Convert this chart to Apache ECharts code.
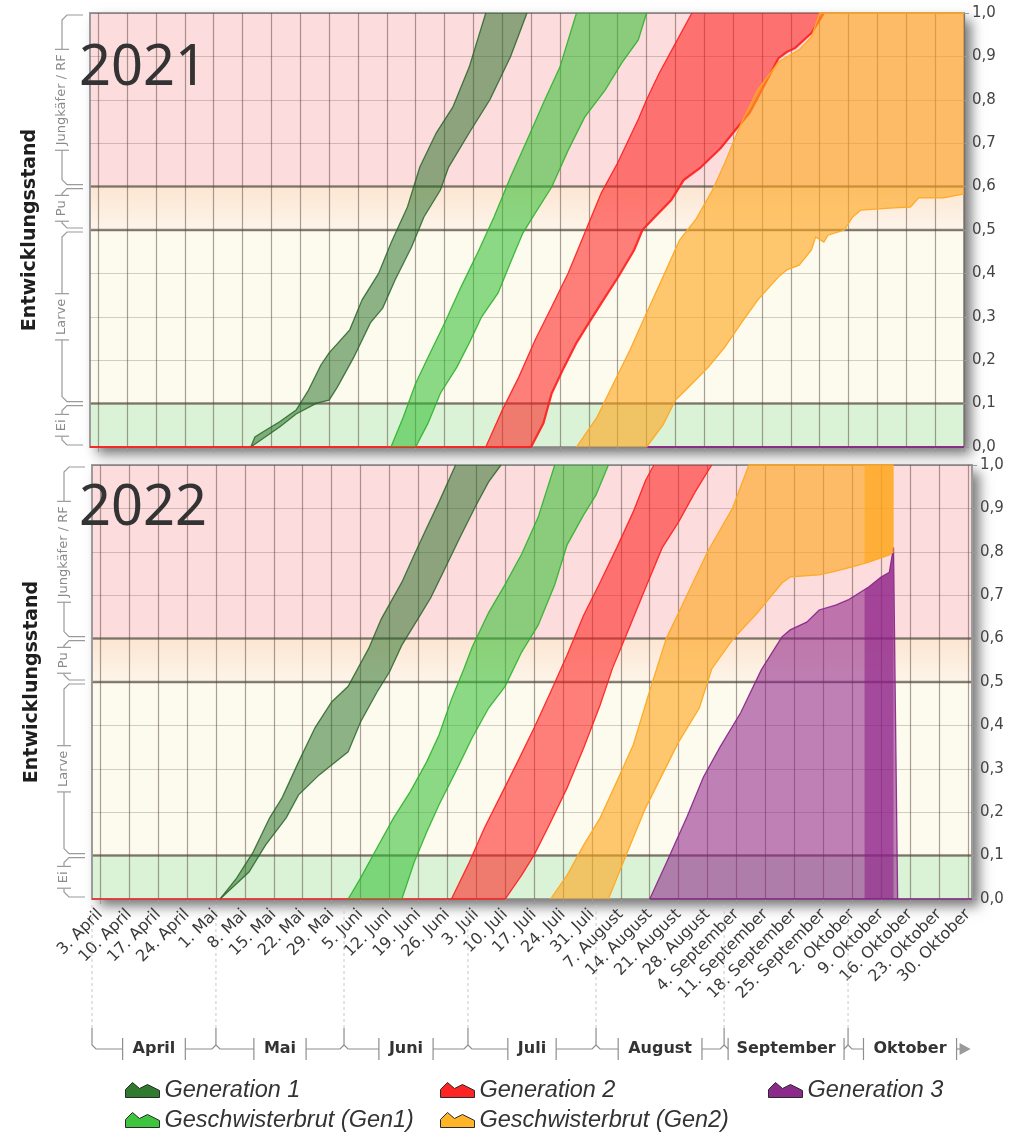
<!DOCTYPE html>
<html lang="de">
<head>
<meta charset="utf-8">
<title>Entwicklungsstand 2021 / 2022</title>
<script src="https://cdn.jsdelivr.net/npm/echarts@6/dist/echarts.min.js"></script>
<style>
  html, body { margin: 0; padding: 0; background: #ffffff; }
  #chart { width: 1013px; height: 1134px; }
</style>
</head>
<body>
<div id="chart"></div>
<script>
// ---------- axis texts ----------
const monthNames = ['Januar', 'Februar', 'März', 'April', 'Mai', 'Juni', 'Juli',
  'August', 'September', 'Oktober', 'November', 'Dezember'];
const weekTicks = ['04-03', '04-10', '04-17', '04-24', '05-01', '05-08', '05-15', '05-22',
  '05-29', '06-05', '06-12', '06-19', '06-26', '07-03', '07-10', '07-17', '07-24', '07-31',
  '08-07', '08-14', '08-21', '08-28', '09-04', '09-11', '09-18', '09-25', '10-02', '10-09',
  '10-16', '10-23', '10-30'];
const monthLabels = ['April', 'Mai', 'Juni', 'Juli', 'August', 'September', 'Oktober'];
const monthStarts = ['04-01', '05-01', '06-01', '07-01', '08-01', '09-01', '10-01'];
const seasonEnd = '10-31';

const stageNames = ['Ei', 'Larve', 'Pu', 'Jungkäfer / RF'];
const stageBounds = [0, 0.1, 0.5, 0.6, 1.0];

const seriesNames = ['Generation 1', 'Generation 2', 'Generation 3',
  'Geschwisterbrut (Gen1)', 'Geschwisterbrut (Gen2)'];

// ---------- 2021: development bands, [month-day, stage] ----------
const gen1Upper2021 = [['05-10', 0], ['05-11', 0.023], ['05-13', 0.035], ['05-17', 0.058], ['05-21', 0.085],
  ['05-24', 0.131], ['05-27', 0.189], ['05-29', 0.217], ['06-03', 0.27], ['06-06', 0.339], ['06-10', 0.40],
  ['06-13', 0.47], ['06-17', 0.553], ['06-20', 0.645], ['06-24', 0.724], ['06-28', 0.783], ['07-02', 0.876],
  ['07-06', 1.0]];
const gen1Lower2021 = [['05-10', 0], ['05-17', 0.046], ['05-21', 0.076], ['05-26', 0.101], ['05-29', 0.108],
  ['05-31', 0.138], ['06-04', 0.207], ['06-08', 0.286], ['06-11', 0.32], ['06-14', 0.385], ['06-18', 0.461],
  ['06-21', 0.53], ['06-25', 0.592], ['06-27', 0.645], ['07-02', 0.724], ['07-07', 0.8], ['07-12', 0.899],
  ['07-16', 1.0]];
const gen2Upper2021 = [['07-06', 0], ['07-10', 0.085], ['07-14', 0.161], ['07-18', 0.247], ['07-22', 0.323],
  ['07-26', 0.401], ['07-30', 0.493], ['08-03', 0.585], ['08-07', 0.655], ['08-12', 0.755], ['08-14', 0.80],
  ['08-17', 0.86], ['08-21', 0.93], ['08-25', 1.0]];
const gen2Lower2021 = [['04-01', 0], ['07-17', 0], ['07-20', 0.055], ['07-22', 0.124], ['07-25', 0.184],
  ['07-28', 0.24], ['07-31', 0.286], ['08-04', 0.346], ['08-07', 0.39], ['08-11', 0.454], ['08-13', 0.5],
  ['08-16', 0.53], ['08-20', 0.569], ['08-23', 0.615], ['08-27', 0.643], ['09-01', 0.689], ['09-04', 0.724],
  ['09-08', 0.77], ['09-11', 0.823], ['09-15', 0.896], ['09-17', 0.91], ['09-19', 0.919], ['09-23', 0.954],
  ['09-25', 0.984], ['09-26', 1.0]];
const gen3Upper2021 = [['08-14', 0], ['10-30', 0]];
const gen3Lower2021 = [['08-14', 0], ['10-30', 0]];
const sib1Upper2021 = [['06-13', 0], ['06-16', 0.069], ['06-19', 0.147], ['06-22', 0.207], ['06-26', 0.285],
  ['06-30', 0.369], ['07-04', 0.447], ['07-08', 0.53], ['07-12', 0.622], ['07-16', 0.707], ['07-20', 0.793],
  ['07-24', 0.876], ['07-28', 1.0]];
const sib1Lower2021 = [['06-19', 0], ['06-22', 0.055], ['06-25', 0.124], ['06-29', 0.184], ['07-02', 0.24],
  ['07-05', 0.3], ['07-09', 0.355], ['07-12', 0.425], ['07-15', 0.493], ['07-18', 0.539], ['07-22', 0.599],
  ['07-26', 0.684], ['07-30', 0.76], ['08-04', 0.823], ['08-08', 0.885], ['08-12', 0.938], ['08-14', 1.0]];
const sib2Upper2021 = [['07-28', 0], ['08-02', 0.069], ['08-06', 0.147], ['08-10', 0.224], ['08-14', 0.309],
  ['08-18', 0.392], ['08-22', 0.477], ['08-26', 0.525], ['08-30', 0.592], ['09-02', 0.655], ['09-06', 0.747],
  ['09-10', 0.823], ['09-15', 0.887], ['09-20', 0.915], ['09-23', 0.945], ['09-25', 1.0], ['10-30', 1.0]];
const sib2Lower2021 = [['08-14', 0], ['08-18', 0.051], ['08-21', 0.108], ['08-24', 0.136], ['08-29', 0.184],
  ['09-02', 0.23], ['09-06', 0.286], ['09-10', 0.339], ['09-15', 0.392], ['09-17', 0.408], ['09-20', 0.419],
  ['09-23', 0.454], ['09-24', 0.484], ['09-26', 0.472], ['09-27', 0.488], ['10-01', 0.5], ['10-03', 0.53],
  ['10-05', 0.546], ['10-13', 0.551], ['10-17', 0.553], ['10-19', 0.574], ['10-25', 0.574], ['10-30', 0.583]];

// ---------- 2022 ----------
const gen1Upper2022 = [['05-02', 0], ['05-06', 0.048], ['05-10', 0.108], ['05-14', 0.187], ['05-17', 0.233],
  ['05-21', 0.316], ['05-25', 0.395], ['05-29', 0.454], ['06-02', 0.49], ['06-07', 0.578], ['06-10', 0.645],
  ['06-15', 0.73], ['06-18', 0.793], ['06-21', 0.855], ['06-24', 0.915], ['06-28', 1.0]];
const gen1Lower2022 = [['05-02', 0], ['05-09', 0.062], ['05-13', 0.124], ['05-18', 0.187], ['05-21', 0.24],
  ['05-26', 0.286], ['05-29', 0.309], ['06-02', 0.339], ['06-05', 0.408], ['06-09', 0.477], ['06-12', 0.523],
  ['06-15', 0.585], ['06-19', 0.647], ['06-22', 0.694], ['06-25', 0.753], ['06-29', 0.832], ['07-03', 0.908],
  ['07-06', 0.961], ['07-09', 1.0]];
const gen2Upper2022 = [['06-27', 0], ['07-01', 0.078], ['07-05', 0.164], ['07-09', 0.24], ['07-13', 0.316],
  ['07-17', 0.394], ['07-21', 0.477], ['07-25', 0.562], ['07-29', 0.654], ['08-02', 0.73], ['08-06', 0.809],
  ['08-10', 0.892], ['08-13', 0.965], ['08-15', 1.0]];
const gen2Lower2022 = [['04-01', 0], ['07-10', 0], ['07-14', 0.055], ['07-17', 0.101], ['07-21', 0.177],
  ['07-25', 0.256], ['07-29', 0.348], ['08-02', 0.447], ['08-05', 0.532], ['08-09', 0.624], ['08-13', 0.717],
  ['08-17', 0.809], ['08-21', 0.869], ['08-25', 0.938], ['08-29', 1.0]];
const gen3Upper2022 = [['08-14', 0], ['08-18', 0.083], ['08-23', 0.189], ['08-27', 0.281], ['08-31', 0.35],
  ['09-05', 0.429], ['09-10', 0.528], ['09-15', 0.604], ['09-17', 0.62], ['09-21', 0.638], ['09-24', 0.666],
  ['09-28', 0.677], ['10-01', 0.689], ['10-06', 0.719], ['10-09', 0.742], ['10-11', 0.753], ['10-12', 0.81],
  ['10-13', 0]];
const gen3Lower2022 = [['08-14', 0], ['10-31', 0]];
const sib1Upper2022 = [['06-02', 0], ['06-05', 0.048], ['06-09', 0.118], ['06-13', 0.187], ['06-17', 0.247],
  ['06-21', 0.316], ['06-24', 0.378], ['06-27', 0.46], ['06-30', 0.53], ['07-02', 0.58], ['07-06', 0.66],
  ['07-10', 0.725], ['07-14', 0.795], ['07-18', 0.88], ['07-22', 1.0]];
const sib1Lower2022 = [['06-15', 0], ['06-18', 0.085], ['06-21', 0.154], ['06-24', 0.217], ['06-28', 0.293],
  ['07-02', 0.371], ['07-06', 0.44], ['07-10', 0.49], ['07-14', 0.569], ['07-18', 0.631], ['07-22', 0.724],
  ['07-25', 0.816], ['07-29', 0.885], ['08-01', 0.931], ['08-04', 1.0]];
const sib2Upper2022 = [['07-21', 0], ['07-25', 0.055], ['07-29', 0.124], ['08-02', 0.187], ['08-06', 0.27],
  ['08-10', 0.355], ['08-14', 0.48], ['08-18', 0.6], ['08-23', 0.7], ['08-28', 0.8], ['09-03', 0.9],
  ['09-07', 1.0], ['10-12', 1.0]];
const sib2Lower2022 = [['08-04', 0], ['08-07', 0.071], ['08-10', 0.141], ['08-13', 0.21], ['08-17', 0.286],
  ['08-21', 0.362], ['08-26', 0.44], ['08-29', 0.53], ['09-03', 0.597], ['09-09', 0.659], ['09-15', 0.728],
  ['09-17', 0.742], ['09-24', 0.747], ['09-27', 0.753], ['10-02', 0.765], ['10-06', 0.776], ['10-11', 0.793],
  ['10-12', 0.8]];
// days that appear twice in the 2022 run; those bands are laid down a second time there
const overlap2022 = ['10-05', '10-12'];
const overlapSeries = ['Generation 3', 'Geschwisterbrut (Gen2)'];

// ---------- styling ----------
const bandFill = ['rgba(30,105,30,0.5)', 'rgba(255,25,25,0.55)', 'rgba(140,30,135,0.55)',
  'rgba(45,190,45,0.55)', 'rgba(255,165,25,0.6)'];
const bandEdge = ['rgba(35,95,35,0.8)', 'rgba(255,30,30,0.9)', 'rgba(135,35,135,0.9)',
  'rgba(40,175,40,0.85)', 'rgba(255,168,35,0.95)'];
const legendColor = ['#2f7a2f', '#ff2424', '#8c2a8c', '#3fc43f', '#ffb42a'];
const stageFill = ['#daf2d5', '#fcfbee', null, '#fcdcdc'];
const FONT = '"DejaVu Sans", Verdana, sans-serif';

function dayRange(from, to) {
  const [fm, fd] = from.split('-').map(Number);
  const [tm, td] = to.split('-').map(Number);
  const d = new Date(2022, fm - 1, fd), end = new Date(2022, tm - 1, td);
  const out = [];
  while (d <= end) {
    out.push(String(d.getMonth() + 1).padStart(2, '0') + '-' + String(d.getDate()).padStart(2, '0'));
    d.setDate(d.getDate() + 1);
  }
  return out;
}
function indexOf(days) { const m = {}; days.forEach((c, i) => { m[c] = i; }); return m; }
function measure(text, font) {
  const ctx = measure.ctx || (measure.ctx = document.createElement('canvas').getContext('2d'));
  ctx.font = font;
  return ctx.measureText(text).width;
}
function dayLabel(md) { const [m, d] = md.split('-').map(Number); return d + '. ' + monthNames[m - 1]; }

const panels = [
  {
    year: '2021', days: dayRange('04-01', '10-30'),
    grid: { left: 90, top: 13, width: 874, height: 434 },
    upper: [gen1Upper2021, gen2Upper2021, gen3Upper2021, sib1Upper2021, sib2Upper2021],
    lower: [gen1Lower2021, gen2Lower2021, gen3Lower2021, sib1Lower2021, sib2Lower2021],
    lowerWidth: [1.3, 2.2, 1.3, 1.3, 1.3], overlap: null, titleTop: 41
  },
  {
    year: '2022', days: dayRange('04-01', '10-31'),
    grid: { left: 92, top: 465, width: 880, height: 434 },
    upper: [gen1Upper2022, gen2Upper2022, gen3Upper2022, sib1Upper2022, sib2Upper2022],
    lower: [gen1Lower2022, gen2Lower2022, gen3Lower2022, sib1Lower2022, sib2Lower2022],
    lowerWidth: [1.3, 1.3, 1.3, 1.3, 1.3], overlap: overlap2022, titleTop: 481
  }
];
panels.forEach(p => { p.index = indexOf(p.days); });
const tickSet = new Set(weekTicks);

// background: stage bands, frame, shadow and stage brackets on the left
function stageSeries(gi) {
  return {
    type: 'custom', xAxisIndex: gi, yAxisIndex: gi, z: -2, silent: true, clip: false,
    data: stageNames.map((n, i) => [0, stageBounds[i]]),
    encode: { x: 0, y: 1 },
    renderItem(params, api) {
      const i = params.dataIndex, cs = params.coordSys;
      const yTop = api.coord([0, stageBounds[i + 1]])[1];
      const yBot = api.coord([0, stageBounds[i]])[1];
      const ch = [];
      if (i === 0) {
        ch.push({ type: 'rect', shape: { x: cs.x, y: cs.y, width: cs.width, height: cs.height },
          style: { fill: '#ffffff', shadowBlur: 12, shadowOffsetX: 7, shadowOffsetY: 7, shadowColor: 'rgba(0,0,0,0.55)' } });
      }
      const fill = stageFill[i] || new echarts.graphic.LinearGradient(0, 0, 0, 1,
        [{ offset: 0, color: '#fde5d2' }, { offset: 1, color: '#fdf5ea' }]);
      ch.push({ type: 'rect', shape: { x: cs.x, y: yTop, width: cs.width, height: yBot - yTop }, style: { fill } });
      if (i > 0) {
        ch.push({ type: 'line', shape: { x1: cs.x, y1: yBot, x2: cs.x + cs.width, y2: yBot },
          style: { stroke: '#8b8377', lineWidth: 2.5 } });
      }
      if (i === stageNames.length - 1) {
        ch.push({ type: 'rect', shape: { x: cs.x, y: cs.y, width: cs.width, height: cs.height },
          style: { fill: null, stroke: '#9c9c9c', lineWidth: 2 } });
      }
      // bracket with the stage name
      const font = '13px ' + FONT;
      const len = measure(stageNames[i], font);
      const xb = cs.x - 28, xr = cs.x - 7;
      const mid = (yTop + yBot) / 2;
      const a = mid - len / 2 - 5, b = mid + len / 2 + 5;
      const st = { stroke: '#9a9a9a', lineWidth: 1.2, fill: null };
      ch.push({ type: 'polyline', shape: { points: [[xr, yTop + 2], [xb + 5, yTop + 2], [xb, yTop + 7], [xb, Math.max(yTop + 7, a)]] }, style: st });
      ch.push({ type: 'polyline', shape: { points: [[xr, yBot - 2], [xb + 5, yBot - 2], [xb, yBot - 7], [xb, Math.min(yBot - 7, b)]] }, style: st });
      ch.push({ type: 'line', shape: { x1: xb - 7, y1: a, x2: xb + 7, y2: a }, style: st });
      ch.push({ type: 'line', shape: { x1: xb - 7, y1: b, x2: xb + 7, y2: b }, style: st });
      ch.push({ type: 'text', x: xb, y: mid, rotation: Math.PI / 2,
        style: { text: stageNames[i], font, fill: '#8a8a8a', align: 'center', verticalAlign: 'middle' } });
      return { type: 'group', children: ch };
    }
  };
}

// piece of an edge between two day indices (linear between its points)
function sliceEdge(edge, a, b) {
  const valAt = t => {
    for (let j = 0; j < edge.length - 1; j++) {
      const p = edge[j], q = edge[j + 1];
      if (t >= p[0] && t <= q[0]) return q[0] === p[0] ? q[1] : p[1] + (q[1] - p[1]) * (t - p[0]) / (q[0] - p[0]);
    }
    return t < edge[0][0] ? edge[0][1] : edge[edge.length - 1][1];
  };
  const pts = [[a, valAt(a)]];
  edge.forEach(p => { if (p[0] > a && p[0] < b) pts.push(p); });
  pts.push([b, valAt(b)]);
  return pts;
}

function bandSeries(gi, k) {
  const panel = panels[gi], m = panel.index;
  const up = panel.upper[k].map(p => [m[p[0]], p[1]]);
  const lo = panel.lower[k].map(p => [m[p[0]], p[1]]);
  const overlap = panel.overlap && overlapSeries.includes(seriesNames[k]) ? panel.overlap : null;
  return {
    type: 'custom', name: seriesNames[k], xAxisIndex: gi, yAxisIndex: gi, z: 2, silent: true,
    itemStyle: { color: legendColor[k] },
    data: up, encode: { x: 0, y: 1 },
    renderItem(params, api) {
      if (params.dataIndex !== 0) return null;
      const U = up.map(p => api.coord(p)), L = lo.map(p => api.coord(p));
      const ch = [{ type: 'polygon', shape: { points: U.concat(L.slice().reverse()) }, style: { fill: bandFill[k] } }];
      if (overlap) {
        const a = m[overlap[0]], b = m[overlap[1]];
        const su = sliceEdge(up, a, b).map(p => api.coord(p));
        const sl = sliceEdge(lo, a, b).map(p => api.coord(p));
        ch.push({ type: 'polygon', shape: { points: su.concat(sl.reverse()) }, style: { fill: bandFill[k] } });
      }
      ch.push({ type: 'polyline', shape: { points: U }, style: { stroke: bandEdge[k], lineWidth: 1.3, fill: null } });
      ch.push({ type: 'polyline', shape: { points: L }, style: { stroke: bandEdge[k], lineWidth: panel.lowerWidth[k], fill: null } });
      return { type: 'group', children: ch };
    }
  };
}

// month brackets below the lower panel
function monthSeries(gi) {
  const m = panels[gi].index;
  const font = 'bold 16px ' + FONT;
  return {
    type: 'custom', xAxisIndex: gi, yAxisIndex: gi, z: 3, silent: true, clip: false,
    data: monthStarts.map(s => [m[s], 0]), encode: { x: 0, y: 1 },
    renderItem(params, api) {
      const i = params.dataIndex, cs = params.coordSys;
      const x0 = api.coord([m[monthStarts[i]], 0])[0];
      const last = i === monthStarts.length - 1;
      const x1 = api.coord([m[last ? seasonEnd : monthStarts[i + 1]], 0])[0];
      const yb = cs.y + cs.height + 150;
      const w = measure(monthLabels[i], font);
      const cx = (x0 + x1) / 2;
      const tl = Math.max(x0 + 4, cx - w / 2 - 10), tr = Math.min(x1 - 4, cx + w / 2 + 10);
      const st = { stroke: '#8e8e8e', lineWidth: 1.2, fill: null };
      const ch = [
        { type: 'line', shape: { x1: x0, y1: cs.y + cs.height + 6, x2: x0, y2: yb - 21 },
          style: { stroke: '#c9c9c9', lineWidth: 1, lineDash: [3, 3] } },
        { type: 'polyline', shape: { points: [[x0, yb - 21], [x0, yb - 4], [x0 + 4, yb], [tl, yb]] }, style: st },
        { type: 'line', shape: { x1: tl, y1: yb - 11, x2: tl, y2: yb + 11 }, style: st },
        { type: 'line', shape: { x1: tr, y1: yb - 11, x2: tr, y2: yb + 11 }, style: st },
        { type: 'text', style: { text: monthLabels[i], x: cx, y: yb, font, fill: '#333333', align: 'center', verticalAlign: 'middle' } }
      ];
      if (last) {
        ch.push({ type: 'line', shape: { x1: tr, y1: yb, x2: tr + 4, y2: yb }, style: st });
        ch.push({ type: 'polygon', shape: { points: [[tr + 3, yb - 6], [tr + 14, yb], [tr + 3, yb + 6]] }, style: { fill: '#9a9a9a' } });
      } else {
        ch.push({ type: 'polyline', shape: { points: [[tr, yb], [x1 - 4, yb], [x1, yb - 4]] }, style: st });
      }
      return { type: 'group', children: ch };
    }
  };
}

const series = [];
panels.forEach((p, gi) => {
  series.push(stageSeries(gi));
  seriesNames.forEach((n, k) => series.push(bandSeries(gi, k)));
});
series.push(monthSeries(1));

// legend: one entry per slot, three columns and two rows
const iconPath = 'path://M0,17 L0,9 L7,2 L14,8 L22,4 L34,10 L34,17 Z';
const legendSlots = [
  ['Generation 1', 125, 1078], ['Generation 2', 440, 1078], ['Generation 3', 768, 1078],
  ['Geschwisterbrut (Gen1)', 125, 1108], ['Geschwisterbrut (Gen2)', 440, 1108]
];
const legends = legendSlots.map(([name, left, top]) => ({
  left, top, padding: 0, itemWidth: 34, itemHeight: 17, selectedMode: false,
  textStyle: { fontSize: 23.5, fontStyle: 'italic', fontFamily: '"Liberation Sans", Arial, sans-serif', color: '#333', lineHeight: 24 },
  data: [{ name, icon: iconPath,
    itemStyle: { color: legendColor[seriesNames.indexOf(name)], borderColor: '#2a2a2a', borderWidth: 1 } }]
}));

const option = {
  animation: false,
  backgroundColor: '#ffffff',
  title: panels.map(p => ({
    text: p.year, left: 79, top: p.titleTop, padding: 0,
    textStyle: { fontSize: 56, fontWeight: 'normal', color: '#333333', fontFamily: '"Noto Sans", "Open Sans", sans-serif' }
  })),
  legend: legends,
  grid: panels.map(p => Object.assign({ containLabel: false }, p.grid)),
  xAxis: panels.map((p, gi) => ({
    type: 'category', gridIndex: gi, data: p.days, boundaryGap: false,
    axisLine: { show: false },
    axisTick: { show: true, interval: (i, v) => tickSet.has(v), length: 5, lineStyle: { color: '#9a9a9a' } },
    splitLine: { show: true, interval: (i, v) => tickSet.has(v), lineStyle: { color: 'rgba(85,68,58,0.5)', width: 1.2 } },
    axisLabel: {
      show: gi === 1, interval: (i, v) => tickSet.has(v), rotate: 45, margin: 13,
      formatter: dayLabel, fontSize: 16, fontFamily: FONT, color: '#3a3a3a'
    }
  })),
  yAxis: panels.map((p, gi) => ({
    type: 'value', gridIndex: gi, position: 'right', min: 0, max: 1, interval: 0.1,
    axisLine: { show: false },
    axisTick: { show: true, length: 5, lineStyle: { color: '#9a9a9a' } },
    splitLine: { show: true, lineStyle: { color: 'rgba(85,68,58,0.25)', width: 1.2 } },
    axisLabel: { margin: 8, fontSize: 15, fontFamily: FONT, color: '#444444',
      formatter: v => v.toFixed(1).replace('.', ',') }
  })).concat(panels.map((p, gi) => ({
    type: 'value', gridIndex: gi, position: 'left', min: 0, max: 1,
    axisLine: { show: false }, axisTick: { show: false }, axisLabel: { show: false }, splitLine: { show: false },
    name: 'Entwicklungsstand', nameLocation: 'middle', nameGap: 50, nameRotate: 90,
    nameTextStyle: { fontSize: 19, fontWeight: 'bold', fontFamily: FONT, color: '#1e1e1e' }
  }))),
  series
};

const chart = echarts.init(document.getElementById('chart'), null, { renderer: 'canvas' });
chart.setOption(option);
</script>
</body>
</html>
